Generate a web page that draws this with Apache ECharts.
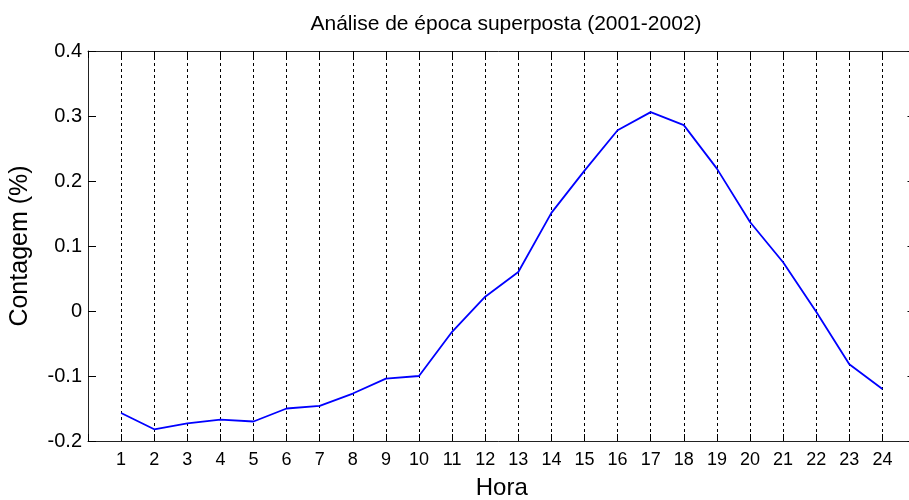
<!DOCTYPE html>
<html>
<head>
<meta charset="utf-8">
<script src="https://cdn.jsdelivr.net/npm/echarts@6/dist/echarts.min.js"></script>
<style>
  html, body { margin: 0; padding: 0; background: #fff; }
  #chart { width: 909px; height: 500px; }
</style>
</head>
<body>
<div id="chart"></div>
<script>
// Hour of day (1..24) and the superposed-epoch count deviation (%)
const hours = [1, 2, 3, 4, 5, 6, 7, 8, 9, 10, 11, 12, 13, 14, 15, 16, 17, 18, 19, 20, 21, 22, 23, 24];
const countPct = [-0.157, -0.182, -0.173, -0.167, -0.170, -0.150, -0.146, -0.127, -0.104, -0.100,
                  -0.032, 0.022, 0.060, 0.151, 0.216, 0.278, 0.306, 0.286, 0.219, 0.137,
                  0.075, -0.001, -0.082, -0.120];
const yTicks = [-0.2, -0.1, 0, 0.1, 0.2, 0.3, 0.4];

const titleText = 'Análise de época superposta (2001-2002)';
const xName = 'Hora';
const yName = 'Contagem (%)';

const font = '"Liberation Sans", Arial, Helvetica, sans-serif';
const axisColor = '#222';

const chart = echarts.init(document.getElementById('chart'), null, { renderer: 'canvas' });

const fmtY = v => {
  const r = Math.round(v * 10) / 10;
  return yTicks.some(t => Math.abs(t - r) < 1e-9) ? (r === 0 ? '0' : r.toFixed(1)) : '';
};
const fmtX = v => (hours.indexOf(v) >= 0 ? String(v) : '');

const boxLine = { show: true, onZero: false, lineStyle: { color: axisColor, width: 1 } };

chart.setOption({
  animation: false,
  backgroundColor: '#fff',
  title: {
    text: titleText,
    left: 501,
    textAlign: 'center',
    top: 9,
    textStyle: { fontFamily: font, fontSize: 21, fontWeight: 'normal', color: '#000' }
  },
  grid: {
    left: 88, top: 51, right: -6.5, bottom: 59,
    containLabel: false, outerBoundsMode: 'none'
  },
  xAxis: [
    {
      type: 'value', min: 0, max: 25, interval: 1, position: 'bottom',
      name: xName, nameLocation: 'middle', nameGap: 35,
      nameTextStyle: { fontFamily: font, fontSize: 24, color: '#000' },
      axisLine: boxLine,
      axisTick: { show: true, inside: true, length: 7, lineStyle: { color: '#000' } },
      axisLabel: { formatter: fmtX, fontFamily: font, fontSize: 18, color: '#000', margin: 10 },
      splitLine: { show: true, lineStyle: { color: '#000', type: [3, 3], width: 1 } }
    },
    {
      type: 'value', min: 0, max: 25, interval: 1, position: 'top',
      axisLine: boxLine,
      axisTick: { show: true, inside: true, length: 7, lineStyle: { color: '#000' } },
      axisLabel: { show: false },
      splitLine: { show: false }
    }
  ],
  yAxis: [
    {
      type: 'value', min: -0.2, max: 0.4, interval: 0.1, position: 'left',
      name: yName, nameLocation: 'middle', nameGap: 55, nameRotate: 90,
      nameTextStyle: { fontFamily: font, fontSize: 25, color: '#000' },
      axisLine: boxLine,
      axisTick: { show: true, inside: true, length: 8, lineStyle: { color: '#000' } },
      axisLabel: { formatter: fmtY, fontFamily: font, fontSize: 20, color: '#000', margin: 6 },
      splitLine: { show: false }
    },
    {
      type: 'value', min: -0.2, max: 0.4, interval: 0.1, position: 'right',
      axisLine: boxLine,
      axisTick: { show: true, inside: true, length: 8, lineStyle: { color: '#000' } },
      axisLabel: { show: false },
      splitLine: { show: false }
    }
  ],
  series: [
    {
      type: 'line',
      xAxisIndex: 0,
      yAxisIndex: 0,
      data: hours.map((h, i) => [h, countPct[i]]),
      showSymbol: false,
      symbol: 'none',
      lineStyle: { color: '#0000ff', width: 1.8 },
      itemStyle: { color: '#0000ff' }
    }
  ]
});
</script>
</body>
</html>
